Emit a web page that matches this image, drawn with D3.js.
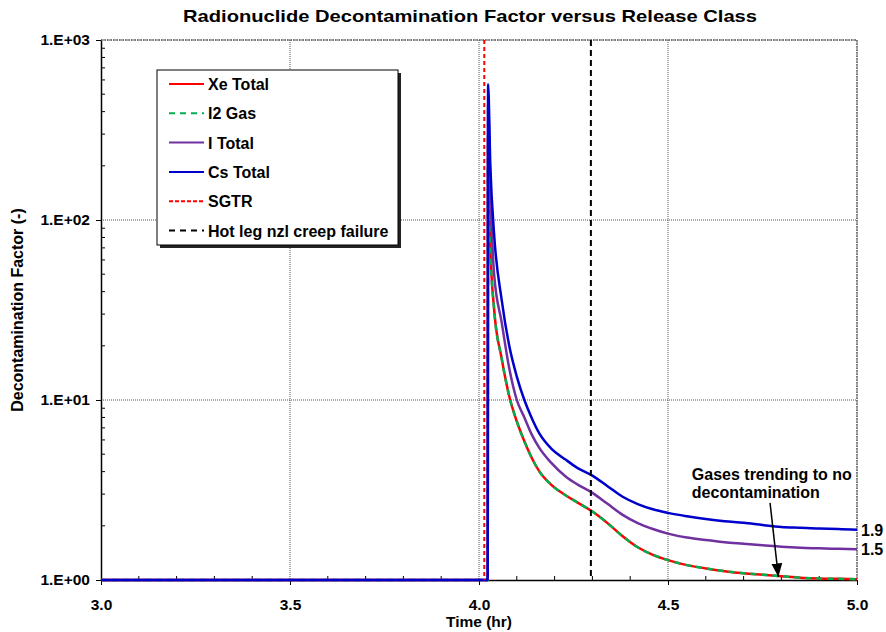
<!DOCTYPE html>
<html lang='en'>
  <head>
    <meta charset='utf-8'>
    <style>
      body { margin: 0; background: #fff; }
      svg { display: block; font-family: 'Liberation Sans', Arial, sans-serif; }
    </style>
  </head>
  <body>
    <div id='chart'></div>

    <script src='https://cdn.jsdelivr.net/npm/d3@7/dist/d3.min.js'></script>
    <script>
      // sample times (hr), shared by all four curves
      var time = [3.000, 4.023, 4.024, 4.030, 4.040, 4.060, 4.080, 4.100, 4.120, 4.140, 4.160,
                  4.190, 4.230, 4.260, 4.300, 4.340, 4.380, 4.420, 4.460, 4.500, 4.550,
                  4.600, 4.650, 4.700, 4.750, 4.800, 4.850, 4.900, 4.950, 5.000];

      var xeTotal = [1, 1, 300, 70, 32, 17, 10.5, 7.6, 5.9, 4.75, 4.0,
                     3.4, 2.95, 2.7, 2.4, 2.07, 1.75, 1.52, 1.38, 1.29, 1.21,
                     1.16, 1.12, 1.09, 1.07, 1.05, 1.03, 1.02, 1.015, 1.01];
      var i2Gas   = [1, 1, 300, 70, 32, 17, 10.5, 7.6, 5.9, 4.75, 4.0,
                     3.4, 2.95, 2.7, 2.4, 2.07, 1.75, 1.52, 1.38, 1.29, 1.21,
                     1.16, 1.12, 1.09, 1.07, 1.05, 1.03, 1.02, 1.015, 1.01];
      var iTotal  = [1, 1, 450, 150, 50, 27, 15, 10, 8, 6.4, 5.4,
                     4.5, 3.75, 3.4, 3.05, 2.65, 2.3, 2.07, 1.92, 1.81, 1.72,
                     1.67, 1.62, 1.59, 1.56, 1.53, 1.51, 1.50, 1.49, 1.48];
      var csTotal = [1, 1, 568, 200, 83, 36, 20, 13.5, 10, 7.9, 6.5,
                     5.4, 4.65, 4.2, 3.8, 3.32, 2.9, 2.64, 2.47, 2.36, 2.26,
                     2.18, 2.12, 2.08, 2.02, 1.97, 1.95, 1.93, 1.92, 1.90];

      var sgtrTime = 4.014;
      var hotLegTime = 4.296;

      var xTicks = [3.0, 3.5, 4.0, 4.5, 5.0];
      var yTicks = [1, 10, 100, 1000];

      var series = [
        { name: 'Xe Total', values: xeTotal, color: '#ff0000', dash: null },
        { name: 'I2 Gas',   values: i2Gas,   color: '#00b050', dash: '6,5' },
        { name: 'I Total',  values: iTotal,  color: '#7030a0', dash: null },
        { name: 'Cs Total', values: csTotal, color: '#0000cc', dash: null }
      ];

      var width = 886, height = 632;
      var margin = { top: 40, right: 29, bottom: 52, left: 101 };
      var w = width - margin.left - margin.right,
          h = height - margin.top - margin.bottom;

      var svg = d3.select('#chart').append('svg')
          .attr('width', width)
          .attr('height', height);

      svg.append('rect').attr('width', width).attr('height', height).attr('fill', '#fff');

      var g = svg.append('g')
          .attr('transform', 'translate(' + margin.left + ',' + margin.top + ')');

      var x = d3.scaleLinear().domain([3, 5]).range([0, w]);
      var y = d3.scaleLog().domain([1, 1000]).range([h, 0]);

      // grid
      g.selectAll('.gx').data(xTicks.slice(1))
        .enter().append('line')
          .attr('x1', function (d) { return x(d); }).attr('x2', function (d) { return x(d); })
          .attr('y1', 0).attr('y2', h)
          .attr('stroke', '#555').attr('stroke-width', 1).attr('stroke-dasharray', '1,1');
      g.selectAll('.gy').data(yTicks.slice(1))
        .enter().append('line')
          .attr('x1', 0).attr('x2', w)
          .attr('y1', function (d) { return y(d); }).attr('y2', function (d) { return y(d); })
          .attr('stroke', '#555').attr('stroke-width', 1).attr('stroke-dasharray', '1,1');

      // minor ticks
      var xMinor = d3.range(30, 51).map(function (d) { return d / 10; })
          .filter(function (d) { return xTicks.indexOf(d) < 0; });
      g.selectAll('.mx').data(xMinor)
        .enter().append('line')
          .attr('x1', function (d) { return x(d); }).attr('x2', function (d) { return x(d); })
          .attr('y1', h).attr('y2', h - 4)
          .attr('stroke', '#000');
      var yMinor = [];
      [1, 10, 100].forEach(function (b) {
        for (var k = 2; k <= 9; k++) yMinor.push(b * k);
      });
      g.selectAll('.my').data(yMinor)
        .enter().append('line')
          .attr('x1', 0).attr('x2', 4)
          .attr('y1', function (d) { return y(d); }).attr('y2', function (d) { return y(d); })
          .attr('stroke', '#000');

      // axes
      var xAxis = g.append('g')
          .attr('transform', 'translate(0,' + h + ')')
          .call(d3.axisBottom(x).tickValues(xTicks).tickSize(5).tickSizeOuter(0)
            .tickFormat(d3.format('.1f')));
      var yAxis = g.append('g')
          .call(d3.axisLeft(y).tickValues(yTicks).tickSize(5).tickSizeOuter(0)
            .tickFormat(function (d) { return '1.E+0' + Math.round(Math.log10(d)); }));
      [xAxis, yAxis].forEach(function (a) {
        a.select('.domain').attr('stroke', '#000').attr('stroke-width', 1.5);
        a.selectAll('text').attr('font-size', 15.5).attr('font-weight', 'bold')
          .attr('font-family', "'Liberation Sans', Arial, sans-serif").attr('fill', '#000');
      });
      xAxis.selectAll('text').attr('dy', '1.4em');
      yAxis.selectAll('text').attr('x', -11);

      // top and right border
      g.append('line').attr('x1', 0).attr('x2', w).attr('y1', 0).attr('y2', 0)
        .attr('stroke', '#444').attr('stroke-dasharray', '2,1');
      g.append('line').attr('x1', w).attr('x2', w).attr('y1', 0).attr('y2', h)
        .attr('stroke', '#444').attr('stroke-dasharray', '2,1');

      // curves
      var line = d3.line()
          .curve(d3.curveMonotoneX)
          .x(function (d) { return x(d[0]); })
          .y(function (d) { return y(d[1]); });

      series.forEach(function (s) {
        var pts = time.map(function (t, i) { return [t, s.values[i]]; });
        g.append('path')
          .datum(pts)
          .attr('d', line)
          .attr('fill', 'none')
          .attr('stroke', s.color)
          .attr('stroke-width', 2.5)
          .attr('stroke-dasharray', s.dash);
      });

      // event lines
      g.append('line')
        .attr('x1', x(sgtrTime)).attr('x2', x(sgtrTime)).attr('y1', 0).attr('y2', h)
        .attr('stroke', '#ff0000').attr('stroke-width', 2).attr('stroke-dasharray', '4,3');
      g.append('line')
        .attr('x1', x(hotLegTime)).attr('x2', x(hotLegTime)).attr('y1', 0).attr('y2', h)
        .attr('stroke', '#000').attr('stroke-width', 2).attr('stroke-dasharray', '6,4');

      // end labels
      g.append('text').attr('x', w + 4).attr('y', y(csTotal[csTotal.length - 1]) + 6)
        .attr('font-size', 16).attr('font-weight', 'bold').text('1.9');
      g.append('text').attr('x', w + 4).attr('y', y(iTotal[iTotal.length - 1]) + 6)
        .attr('font-size', 16).attr('font-weight', 'bold').text('1.5');

      // annotation
      svg.append('defs').append('marker')
          .attr('id', 'arrow').attr('viewBox', '0 0 10 10')
          .attr('refX', 10).attr('refY', 5)
          .attr('markerWidth', 9).attr('markerHeight', 9)
          .attr('orient', 'auto')
        .append('path').attr('d', 'M0,1 L10,5 L0,9 z').attr('fill', '#000');
      g.append('line')
        .attr('x1', x(4.770)).attr('y1', y(2.68))
        .attr('x2', x(4.792)).attr('y2', y(1.04))
        .attr('stroke', '#000').attr('stroke-width', 1.5)
        .attr('marker-end', 'url(#arrow)');
      var note = g.append('text')
        .attr('font-size', 16).attr('font-weight', 'bold');
      note.append('tspan').attr('x', x(4.563)).attr('y', y(3.59)).text('Gases trending to no');
      note.append('tspan').attr('x', x(4.563)).attr('dy', 18).text('decontamination');

      // legend
      var legend = svg.append('g').attr('transform', 'translate(157,70)');
      legend.append('rect').attr('x', 3).attr('y', 3).attr('width', 241).attr('height', 175).attr('fill', '#222');
      legend.append('rect').attr('width', 241).attr('height', 175)
        .attr('fill', '#fff').attr('stroke', '#000').attr('stroke-width', 1);
      var legendItems = [
        { name: 'Xe Total', color: '#ff0000', dash: null },
        { name: 'I2 Gas', color: '#00b050', dash: '6,5' },
        { name: 'I Total', color: '#7030a0', dash: null },
        { name: 'Cs Total', color: '#0000cc', dash: null },
        { name: 'SGTR', color: '#ff0000', dash: '4,2' },
        { name: 'Hot leg nzl creep failure', color: '#000', dash: '6,5' }
      ];
      var li = legend.selectAll('.li').data(legendItems)
        .enter().append('g')
          .attr('transform', function (d, i) { return 'translate(0,' + (14 + i * 29.3) + ')'; });
      li.append('line').attr('x1', 12).attr('x2', 47)
        .attr('stroke', function (d) { return d.color; })
        .attr('stroke-width', 2)
        .attr('stroke-dasharray', function (d) { return d.dash; });
      li.append('text').attr('x', 51).attr('y', 6)
        .attr('font-size', 16).attr('font-weight', 'bold').text(function (d) { return d.name; });

      // titles
      svg.append('text').attr('x', 470).attr('y', 22)
        .attr('text-anchor', 'middle').attr('font-size', 17).attr('font-weight', 'bold')
        .attr('textLength', 574).attr('lengthAdjust', 'spacingAndGlyphs')
        .text('Radionuclide Decontamination Factor versus Release Class');
      svg.append('text').attr('x', 479).attr('y', 627)
        .attr('text-anchor', 'middle').attr('font-size', 15.5).attr('font-weight', 'bold')
        .text('Time (hr)');
      svg.append('text')
        .attr('transform', 'translate(23,' + (margin.top + h / 2) + ') rotate(-90)')
        .attr('text-anchor', 'middle').attr('font-size', 16).attr('font-weight', 'bold')
        .text('Decontamination Factor (-)');
    </script>
  </body>
</html>
